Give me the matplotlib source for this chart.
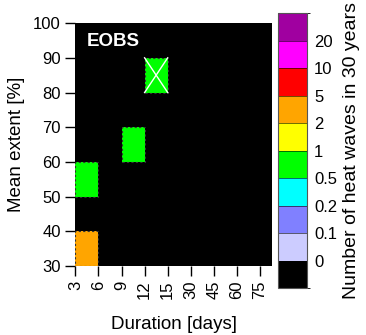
import numpy as np
import matplotlib
matplotlib.use('Agg')
import matplotlib.pyplot as plt
from matplotlib.colors import ListedColormap, BoundaryNorm
from matplotlib.patches import Rectangle
import matplotlib.cm as cm

plt.rcParams['font.family'] = ['Liberation Sans', 'DejaVu Sans']

# data
durations = ['3', '6', '9', '12', '15', '30', '45', '60', '75']
extent_edges = [30, 40, 50, 60, 70, 80, 90, 100]
# number of heat waves per (extent bin, duration bin); rows bottom -> top
counts = np.zeros((7, 9))
counts[0, 0] = 3.0
counts[2, 0] = 0.7
counts[3, 2] = 0.7
counts[5, 3] = 0.7
crossed = [(5, 3)]

levels = [0, 0.1, 0.2, 0.5, 1, 2, 5, 10, 20]
level_labels = ['0', '0.1', '0.2', '0.5', '1', '2', '5', '10', '20']
colors = ['#000000', '#ccccff', '#8080ff', '#00ffff', '#00ff00',
          '#ffff00', '#ffa500', '#ff0000', '#ff00ff', '#a000a0']

bounds = [-1, 1e-9] + levels[1:] + [40]
cmap = ListedColormap(colors)
norm = BoundaryNorm(bounds, cmap.N)

fig = plt.figure(figsize=(3.66, 3.35), dpi=100)
ax = fig.add_axes([0.206, 0.206, 0.537, 0.725])

xe = np.arange(len(durations) + 1)
ax.pcolormesh(xe, extent_edges, counts, cmap=cmap, norm=norm)
ax.set_facecolor('black')

# dashed outlines and crosses for non-zero cells
for r in range(counts.shape[0]):
    for c in range(counts.shape[1]):
        if counts[r, c] > 0:
            y0 = extent_edges[r]
            ax.add_patch(Rectangle((c, y0), 1, 10, fill=False, ec='#333333',
                                   ls=(0, (2, 2)), lw=0.8))
for r, c in crossed:
    y0 = extent_edges[r]
    ax.plot([c, c + 1], [y0, y0 + 10], color='white', lw=1)
    ax.plot([c, c + 1], [y0 + 10, y0], color='white', lw=1)

ax.set_xlim(0, 8.52)
ax.set_ylim(30, 100)
ax.set_xticks(np.arange(len(durations)))
ax.set_xticklabels(durations, rotation=90)
ax.set_yticks(np.arange(30, 101, 10))
ax.tick_params(length=7, width=1, labelsize=12)
for s in ax.spines.values():
    s.set_visible(False)
ax.set_xlabel('Duration [days]', fontsize=13.5, labelpad=12)
ax.set_ylabel('Mean extent [%]', fontsize=13.5, labelpad=6)
ax.text(0.06, 0.96, 'EOBS', transform=ax.transAxes, color='white',
        fontsize=13.5, fontweight='bold', va='top', ha='left')

cax = fig.add_axes([0.760, 0.140, 0.079, 0.821])
sm = cm.ScalarMappable(cmap=cmap, norm=norm)
cb = fig.colorbar(sm, cax=cax, spacing='uniform', drawedges=True,
                  ticks=bounds[1:-1])
cb.set_ticklabels(level_labels)
cb.ax.tick_params(length=0, labelsize=12, pad=5)
cb.outline.set_edgecolor('#555555')
cb.dividers.set_color('black')
cb.set_label('Number of heat waves in 30 years', fontsize=14, labelpad=4)

fig.savefig('out.png', dpi=100)
